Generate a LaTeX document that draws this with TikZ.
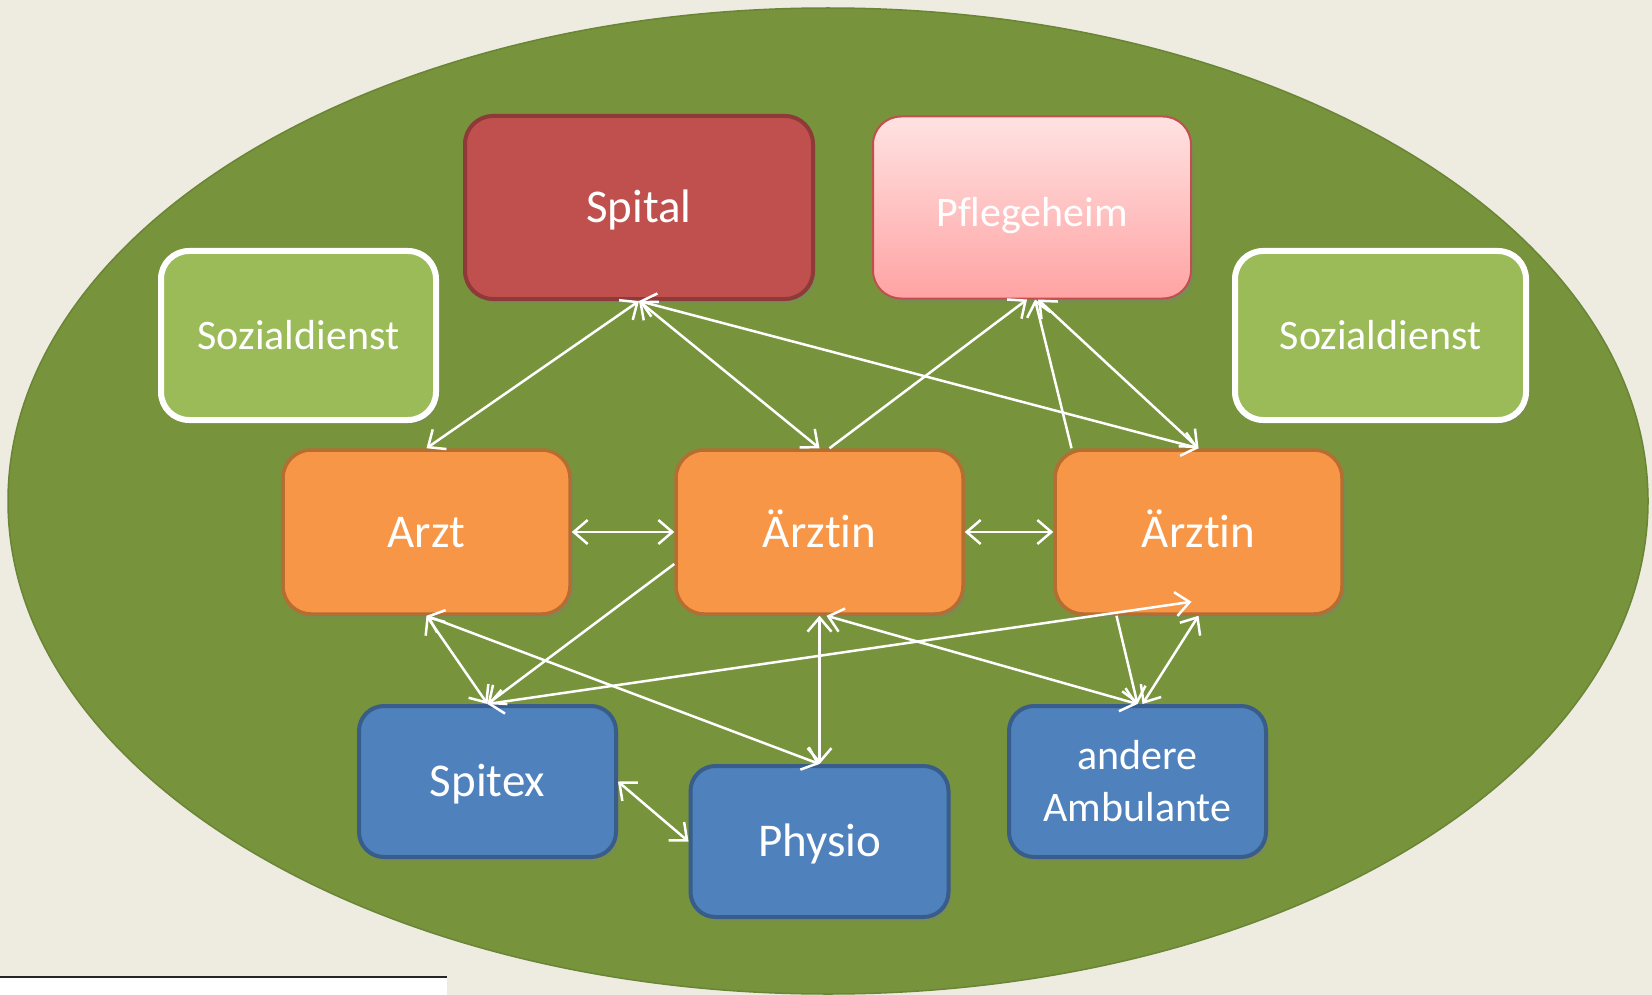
\documentclass[tikz,border=0pt]{standalone}
\usepackage{fontspec}
\setmainfont{Carlito}[RawFeature={-liga;-clig;-dlig;-calt}]
\usetikzlibrary{positioning, arrows.meta, shadows}

\definecolor{bgtan}{HTML}{EEECE1}
\definecolor{olive}{HTML}{77933C}
\definecolor{oliveline}{HTML}{6A8535}
\definecolor{spitalred}{HTML}{C0504D}
\definecolor{spitalline}{HTML}{8E3A38}
\definecolor{pflegetop}{HTML}{FFE2E2}
\definecolor{pflegebot}{HTML}{FFA3A3}
\definecolor{sozgreen}{HTML}{9BBB59}
\definecolor{arztorange}{HTML}{F79646}
\definecolor{arztline}{HTML}{B66D31}
\definecolor{ambublue}{HTML}{4F81BD}
\definecolor{ambuline}{HTML}{385D8A}

\begin{document}
\begin{tikzpicture}[
    x=1pt, y=-1pt,
    >={Straight Barb[length=14pt, width=24pt]},
    on grid,
    box/.style={
        rectangle,
        rounded corners=28pt,
        text=white,
        inner sep=0pt,
        align=center,
        drop shadow={opacity=0.3, shadow xshift=3pt, shadow yshift=-4pt},
        font=\fontsize{47}{56}\selectfont
    },
    bigrow/.style={text height=30pt, text depth=0pt},
    smallrow/.style={text height=27pt, text depth=0pt, font=\fontsize{42}{52}\selectfont},
    spitalbox/.style={box, bigrow, fill=spitalred, draw=spitalline, line width=4pt,
        minimum width=348pt, minimum height=183pt},
    pflegebox/.style={box, smallrow, top color=pflegetop, bottom color=pflegebot,
        draw=spitalred, line width=2pt, minimum width=318pt, minimum height=182pt},
    sozbox/.style={box, smallrow, fill=sozgreen, draw=white, line width=6pt,
        minimum height=169pt},
    arztbox/.style={box, bigrow, fill=arztorange, draw=arztline, line width=3.5pt,
        minimum width=287pt, minimum height=164pt},
    ambubox/.style={box, fill=ambublue, draw=ambuline, line width=4pt,
        minimum width=257pt, minimum height=151pt, rounded corners=25pt},
    link/.style={white, line width=2.5pt}
]

    % === Hintergrund ===
    \fill[bgtan] (0,0) rectangle (1652,995);
    \useasboundingbox (0,0) rectangle (1652,995);
    \fill[white] (0,977) rectangle (447,995);
    \draw[black!85, line width=1.5pt] (0,977) -- (447,977);
    \draw[fill=olive, draw=oliveline, line width=1.5pt]
        (828,501) ellipse [x radius=820pt, y radius=493pt];

    % === Ärzte ===
    \node[arztbox] (arzt) at (426.5,532) {Arzt};
    \node[arztbox, right=393pt of arzt] (aem) {Ärzt\kern0pt in};
    \node[arztbox, right=379pt of aem] (aer) {Ärzt\kern0pt in};

    % === Stationär ===
    \node[spitalbox, above right=324.5pt and 212.5pt of arzt] (spital) {Spital};
    \node[pflegebox, right=393pt of spital] (pflege) {\raisebox{-6pt}{Pf\kern0pt legeheim}};

    % === Sozialdienst ===
    \node[sozbox, minimum width=275pt, above left=196.5pt and 128pt of arzt] (sozl) {Sozialdienst};
    \node[sozbox, minimum width=291pt, above right=196.5pt and 182pt of aer] (sozr) {Sozialdienst};

    % === Ambulant ===
    \node[ambubox, bigrow, below right=249.5pt and 61pt of arzt] (spitex) {Spitex};
    \node[ambubox, bigrow, minimum width=258pt, below=309.5pt of aem] (physio) {Physio};
    \node[ambubox, below left=249.5pt and 61pt of aer, font=\fontsize{42}{52}\selectfont] (andere) {andere\\Ambulante};

    % === Verbindungen ===
    \path[link, <->]
        (arzt.north) edge (spital.south)
        (spital.south) edge (aem.north)
        (spital.south) edge (aer.north)
        ([xshift=6pt]pflege.south) edge (aer.north)
        (arzt.east) edge (aem.west)
        (aem.east) edge (aer.west)
        (arzt.south) edge (spitex.north)
        (arzt.south) edge (physio.north)
        (spitex.north) edge ([xshift=-7pt, yshift=14pt]aer.south)
        (aem.south) edge (physio.north)
        ([xshift=7pt]aem.south) edge (andere.north)
        ([xshift=5pt]andere.north) edge (aer.south)
        (spitex.east) edge (physio.west);
    \path[link, ->]
        ([xshift=10pt]aem.north) edge ([xshift=-5pt]pflege.south)
        ([xshift=-127pt]aer.north) edge ([xshift=3pt]pflege.south)
        ([yshift=-32pt]aem.west) edge (spitex.north)
        ([xshift=-82pt]aer.south) edge (andere.north);

\end{tikzpicture}
\end{document}
